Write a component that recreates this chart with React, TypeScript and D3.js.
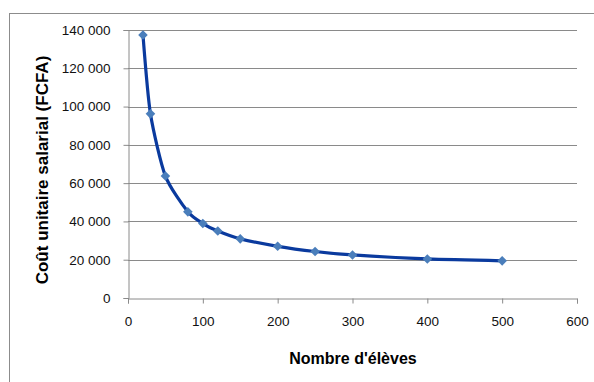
import { useEffect, useRef } from "react";
import * as d3 from "d3";

const eleves = [20, 30, 50, 80, 100, 120, 150, 200, 250, 300, 400, 500];
const cout = [137400, 96200, 63700, 45000, 38900, 35000, 30900, 27000, 24300, 22500, 20400, 19400];
const xTicks = [0, 100, 200, 300, 400, 500, 600];
const yTicks = [0, 20000, 40000, 60000, 80000, 100000, 120000, 140000];

const fmt = (v: number) => d3.format(",")(v).replace(/,/g, " ");

export default function App() {
  const ref = useRef<SVGSVGElement | null>(null);

  useEffect(() => {
    if (!ref.current) return;
    ref.current.innerHTML = "";

    const margin = { top: 30, left: 128 },
      width = 449,
      height = 268;

    const root = d3.select(ref.current);

    // chart frame
    root
      .append("rect")
      .attr("x", 9.5)
      .attr("y", 13.5)
      .attr("width", 600)
      .attr("height", 400)
      .attr("fill", "white")
      .attr("stroke", "#8c8c8c")
      .attr("stroke-width", 1);

    const svg = root
      .append("g")
      .attr("transform", `translate(${margin.left},${margin.top})`);

    const x = d3.scaleLinear().domain([0, 600]).range([0, width]);
    const y = d3.scaleLinear().domain([0, 140000]).range([height, 0]);

    // gridlines
    svg
      .append("g")
      .selectAll("line")
      .data(yTicks.slice(1))
      .join("line")
      .attr("x1", 0)
      .attr("x2", width)
      .attr("y1", (d) => Math.round(y(d)) + 0.5)
      .attr("y2", (d) => Math.round(y(d)) + 0.5)
      .attr("stroke", "#8a8a8a")
      .attr("stroke-width", 1);

    // Y axis
    const yAxis = svg
      .append("g")
      .attr("transform", "translate(0.5,0)")
      .call(d3.axisLeft(y).tickValues(yTicks).tickSize(5).tickPadding(13).tickFormat((d) => fmt(+d)));
    yAxis.selectAll("path, line").attr("stroke", "#8a8a8a");
    yAxis
      .selectAll("text")
      .attr("font-family", "'Liberation Sans', Arial, sans-serif")
      .attr("font-size", 13.5)
      .attr("fill", "#111");

    // X axis
    const xAxis = svg
      .append("g")
      .attr("transform", `translate(0,${height + 0.5})`)
      .call(d3.axisBottom(x).tickValues(xTicks).tickSize(5).tickSizeOuter(5).tickPadding(13));
    xAxis.selectAll("path, line").attr("stroke", "#8a8a8a");
    xAxis
      .selectAll("text")
      .attr("font-family", "'Liberation Sans', Arial, sans-serif")
      .attr("font-size", 13.5)
      .attr("fill", "#111");

    const data = eleves.map((e, i) => ({ e, c: cout[i] }));

    // line
    svg
      .append("path")
      .datum(data)
      .attr("fill", "none")
      .attr("stroke", "#0a3a9e")
      .attr("stroke-width", 3.2)
      .attr("stroke-linejoin", "round")
      .attr(
        "d",
        d3
          .line<(typeof data)[number]>()
          .x((d) => x(d.e))
          .y((d) => y(d.c))
          .curve(d3.curveCardinal.tension(0.3))
      );

    // markers
    svg
      .append("g")
      .selectAll("path")
      .data(data)
      .join("path")
      .attr("transform", (d) => `translate(${x(d.e)},${y(d.c)}) rotate(45)`)
      .attr("d", d3.symbol(d3.symbolSquare, 46)())
      .attr("fill", "#4a7ebb");

    // axis titles
    root
      .append("text")
      .attr("x", 353)
      .attr("y", 364)
      .attr("text-anchor", "middle")
      .attr("font-family", "'Liberation Sans', Arial, sans-serif")
      .attr("font-weight", "bold")
      .attr("font-size", 16)
      .attr("fill", "#000")
      .text("Nombre d'élèves");

    root
      .append("text")
      .attr("transform", "translate(48,170) rotate(-90)")
      .attr("text-anchor", "middle")
      .attr("font-family", "'Liberation Sans', Arial, sans-serif")
      .attr("font-weight", "bold")
      .attr("font-size", 17)
      .attr("fill", "#000")
      .text("Coût unitaire salarial (FCFA)");
  }, []);

  return (
    <svg
      ref={ref}
      width={594}
      height={382}
      style={{ position: "absolute", left: 0, top: 0, background: "white" }}
    />
  );
}
